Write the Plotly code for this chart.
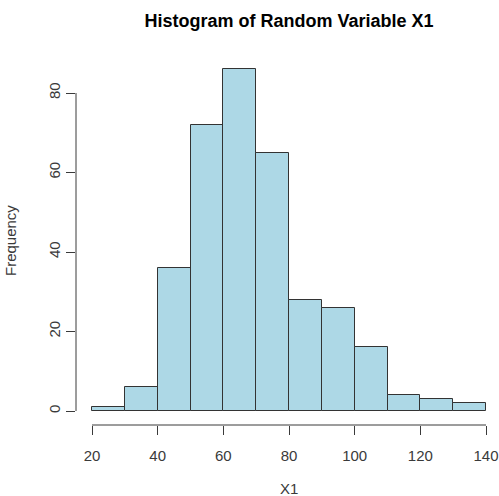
import plotly.graph_objects as go

# Data
bin_edges = [20, 30, 40, 50, 60, 70, 80, 90, 100, 110, 120, 130, 140]
counts = [1, 6, 36, 72, 86, 65, 28, 26, 16, 4, 3, 2]
x_ticks = [20, 40, 60, 80, 100, 120, 140]
y_ticks = [0, 20, 40, 60, 80]

title_text = "Histogram of Random Variable X1"
x_label = "X1"
y_label = "Frequency"

mids = [(a + b) / 2 for a, b in zip(bin_edges[:-1], bin_edges[1:])]
widths = [b - a for a, b in zip(bin_edges[:-1], bin_edges[1:])]

FONT = "Liberation Sans, Arial, sans-serif"
TXT = "#3a3a3a"

fig = go.Figure()
fig.add_trace(go.Bar(
    x=mids, y=counts, width=widths,
    marker=dict(color="#ADD8E6", line=dict(color="#333333", width=1)),
    hoverinfo="x+y",
))

W, H = 499, 496
ml, mr, mt, mb = 76, 0, 56, 71

fig.update_layout(
    width=W, height=H,
    margin=dict(l=ml, r=mr, t=mt, b=mb, pad=0),
    paper_bgcolor="white", plot_bgcolor="white",
    showlegend=False,
    font=dict(family=FONT, size=15, color=TXT),
    title=dict(text="<b>" + title_text + "</b>", xref="container", yref="container",
               x=289 / W, y=1 - 21 / H, xanchor="center", yanchor="middle",
               font=dict(family=FONT, size=18, color="#000000")),
    bargap=0,
    xaxis=dict(range=[15.127, 143.96], tickvals=x_ticks, ticks="outside", ticklen=9,
               tickcolor=TXT, tickwidth=1, showline=False, showgrid=False, zeroline=False,
               tickfont=dict(size=15, color=TXT), ticklabelstandoff=8),
    yaxis=dict(range=[-3.52, 89.31], tickvals=y_ticks, ticks="outside", ticklen=9,
               tickcolor=TXT, tickwidth=1, showline=False, showgrid=False, zeroline=False,
               tickangle=-90, tickfont=dict(size=15, color=TXT), ticklabelstandoff=0),
)

# R-style axis lines spanning first to last tick
fig.add_shape(type="line", xref="x", yref="paper", x0=min(x_ticks), x1=max(x_ticks),
              y0=0, y1=0, line=dict(color=TXT, width=1))
fig.add_shape(type="line", xref="paper", yref="y", x0=0, x1=0,
              y0=min(y_ticks), y1=max(y_ticks), line=dict(color=TXT, width=1))

plot_h = H - mt - mb
plot_w = W - ml - mr
fig.add_annotation(text=x_label, xref="x", yref="paper",
                   x=(bin_edges[0] + bin_edges[-1]) / 2, y=(425 - 488) / plot_h,
                   showarrow=False, xanchor="center", yanchor="middle",
                   font=dict(family=FONT, size=15, color=TXT))
fig.add_annotation(text=y_label, xref="paper", yref="paper",
                   x=(11 - ml) / plot_w, y=(425 - 241) / plot_h, textangle=-90,
                   showarrow=False, xanchor="center", yanchor="middle",
                   font=dict(family=FONT, size=15, color=TXT))

fig.write_html("out.html", config={"displayModeBar": False},
               post_script="document.body.style.margin='0';document.body.style.overflow='hidden';")
